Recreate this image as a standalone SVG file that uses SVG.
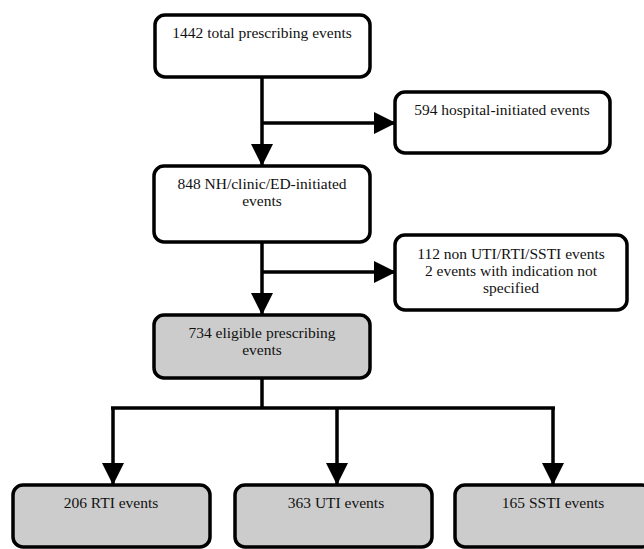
<svg xmlns="http://www.w3.org/2000/svg" width="644" height="549" viewBox="0 0 644 549">
<style>
.box{fill:#fff;stroke:#000;stroke-width:3.5}
.grey{fill:#cccccc}
.t{font-family:"Liberation Serif","Times New Roman",serif;font-size:15.5px;fill:#111;text-anchor:middle}
.c{fill:none;stroke:#000;stroke-width:3.5}
</style>
<defs>
<marker id="ah" markerUnits="userSpaceOnUse" markerWidth="22" markerHeight="22" viewBox="0 0 22 22" refX="22" refY="11" orient="auto">
<path d="M0,0 L22,11 L0,22 Z" fill="#000"/>
</marker>
</defs>
<rect width="644" height="549" fill="#fff"/>
<g id="connectors">
<line class="c" x1="262" y1="77" x2="262" y2="166" marker-end="url(#ah)"/>
<line class="c" x1="262" y1="123" x2="396" y2="123" marker-end="url(#ah)"/>
<line class="c" x1="262" y1="242" x2="262" y2="315" marker-end="url(#ah)"/>
<line class="c" x1="262" y1="272" x2="396" y2="272" marker-end="url(#ah)"/>
<line class="c" x1="262" y1="378" x2="262" y2="408"/>
<line class="c" x1="111" y1="408" x2="555" y2="408"/>
<line class="c" x1="113" y1="408" x2="113" y2="485" marker-end="url(#ah)"/>
<line class="c" x1="337" y1="408" x2="337" y2="485" marker-end="url(#ah)"/>
<line class="c" x1="553" y1="408" x2="553" y2="485" marker-end="url(#ah)"/>
</g>
<g id="n1442">
<rect class="box" x="155" y="15" width="215" height="62" rx="10"/>
<text class="t" x="262" y="38">1442 total prescribing events</text>
</g>
<g id="n594">
<rect class="box" x="395" y="92" width="215" height="61" rx="10"/>
<text class="t" x="502" y="115">594 hospital-initiated events</text>
</g>
<g id="n848">
<rect class="box" x="154" y="166" width="216" height="76" rx="10"/>
<text class="t" x="262" y="189">848 NH/clinic/ED-initiated</text>
<text class="t" x="262" y="206">events</text>
</g>
<g id="n112">
<rect class="box" x="395" y="235" width="232" height="75" rx="10"/>
<text class="t" x="511" y="259">112 non UTI/RTI/SSTI events</text>
<text class="t" x="511" y="276">2 events with indication not</text>
<text class="t" x="511" y="293">specified</text>
</g>
<g id="n734">
<rect class="box grey" x="154" y="315" width="216" height="63" rx="10"/>
<text class="t" x="262" y="338">734 eligible prescribing</text>
<text class="t" x="262" y="355">events</text>
</g>
<g id="nRTI">
<rect class="box grey" x="13" y="485" width="197" height="62" rx="10"/>
<text class="t" x="111" y="508">206 RTI events</text>
</g>
<g id="nUTI">
<rect class="box grey" x="235" y="485" width="197" height="62" rx="10"/>
<text class="t" x="336" y="508">363 UTI events</text>
</g>
<g id="nSSTI">
<rect class="box grey" x="455" y="485" width="197" height="62" rx="10"/>
<text class="t" x="553" y="508">165 SSTI events</text>
</g>
</svg>
